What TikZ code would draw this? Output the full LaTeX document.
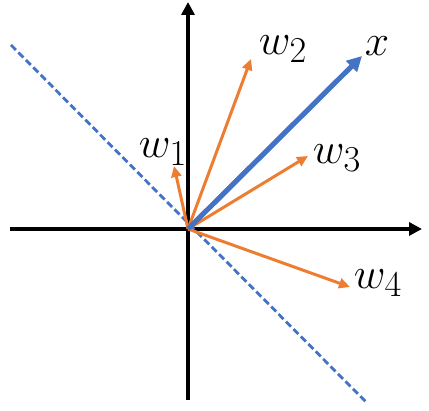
\documentclass[tikz,border=0pt]{standalone}
\usepackage{xcolor}
\usepackage{tikz}
\usetikzlibrary{arrows.meta,positioning}
\definecolor{vecOrange}{HTML}{ED7D31}
\definecolor{vecBlue}{HTML}{4472C4}

\begin{document}
\begin{tikzpicture}[
  x=0.02cm, y=0.02cm,
  axis/.style={-{Triangle[length=2.6mm, width=2.6mm]}, line width=2.2pt, draw=black},
  wvec/.style={-{Triangle[length=2.2mm, width=2mm]}, line width=1.7pt, draw=vecOrange},
  xvec/.style={-{Triangle[length=3mm, width=3mm]}, line width=2.9pt, draw=vecBlue},
  plane/.style={dashed, dash pattern=on 4pt off 2pt, line width=1.6pt, draw=vecBlue},
  lbl/.style={inner sep=0pt, font=\Huge}
]
\useasboundingbox (-188,-182) rectangle (241,229);
\coordinate (O) at (0,0);
% axes
\coordinate (xl) at (-178,0);
\coordinate (xr) at (234,0);
\coordinate (yb) at (0,-171);
\coordinate (yt) at (0,227);
\draw[axis] (xl) -- (xr);
\draw[axis] (yb) -- (yt);
% hyperplane
\coordinate (pa) at (-177,184);
\coordinate (pb) at (178,-173);
\draw[plane] (pa) -- (pb);
% vectors
\coordinate (tw1) at (-14,63);
\coordinate (tw2) at (63,170);
\coordinate (tw3) at (120,73);
\coordinate (tw4) at (162,-58);
\coordinate (tx) at (174,173);
\draw[wvec] (O) -- (tw1);
\draw[wvec] (O) -- (tw2);
\draw[wvec] (O) -- (tw3);
\draw[wvec] (O) -- (tw4);
\draw[xvec] (O) -- (tx);
\node[lbl] (lw1) at (-25,77) {$w_1$};
\node[lbl] (lw2) at (95,180) {$w_2$};
\node[lbl] (lw3) at (149,71) {$w_3$};
\node[lbl] (lw4) at (190,-54) {$w_4$};
\node[lbl] (lx) at (189,183) {$x$};
\end{tikzpicture}
\end{document}
